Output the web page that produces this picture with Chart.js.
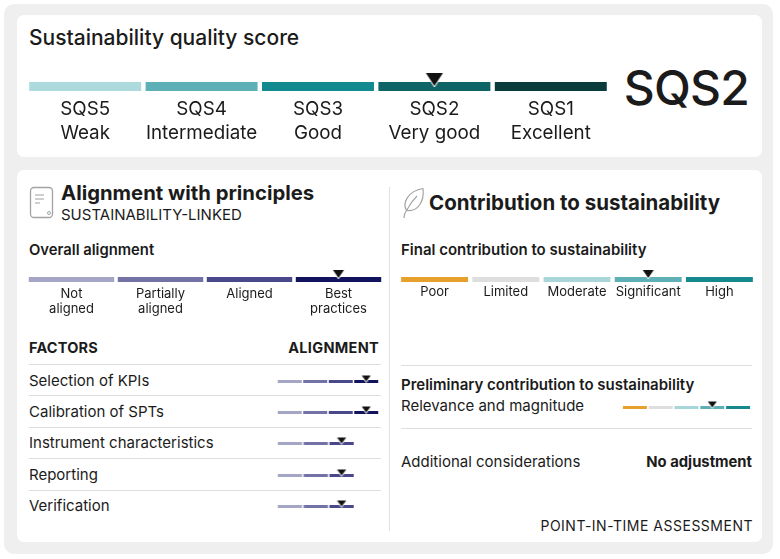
<!DOCTYPE html>
<html><head><meta charset="utf-8">
<script src="https://cdn.jsdelivr.net/npm/chart.js@4.4.1/dist/chart.umd.min.js"></script>
<style>
html,body{margin:0;padding:0;background:#fff;width:780px;height:559px;overflow:hidden;font-family:Inter,Roboto,"Noto Sans",sans-serif;color:#1b1b1b;}
.t{position:absolute;white-space:nowrap;}
#outer{position:absolute;left:4px;top:4px;width:769px;height:550px;background:#efefef;border-radius:10px;}
.card{position:absolute;background:#fff;border-radius:7px;}
.hr{position:absolute;height:1px;background:#dedede;}
.box{position:absolute;}
</style></head><body>
<div id="outer"></div>
<div class="card" style="left:17px;top:15px;width:745px;height:142px;"></div>
<div class="card" style="left:17px;top:170px;width:745px;height:372px;"></div>
<div class="t" style="left:29px;top:26px;font-size:21px;line-height:24px;font-weight:500;">Sustainability quality score</div>
<div class="t" id="bigScore" style="left:580px;width:169px;text-align:right;top:63px;font-size:48px;line-height:50px;font-weight:500;letter-spacing:-0.8px;"></div>

<svg class="t" style="left:29px;top:186px" width="26" height="34" viewBox="0 0 26 34">
  <rect x="1.5" y="1.5" width="22" height="30" rx="3.5" fill="none" stroke="#a3a3a3" stroke-width="1.3"/>
  <line x1="6" y1="9" x2="15" y2="9" stroke="#b0b0b0" stroke-width="1.2"/>
  <line x1="6" y1="13" x2="15" y2="13" stroke="#b0b0b0" stroke-width="1.2"/>
  <line x1="6" y1="17" x2="11" y2="17" stroke="#b0b0b0" stroke-width="1.2"/>
  <circle cx="20" cy="27" r="1.5" fill="none" stroke="#a3a3a3" stroke-width="1"/>
</svg>
<div class="t" style="left:61px;top:181px;font-size:20.3px;line-height:24px;font-weight:700;">Alignment with principles</div>
<div class="t" style="left:61px;top:206px;font-size:15px;line-height:17px;">SUSTAINABILITY-LINKED</div>
<div class="t" style="left:29px;top:241px;font-size:14.8px;line-height:18px;font-weight:600;">Overall alignment</div>
<div class="t" style="left:29px;top:339px;font-size:14.5px;line-height:17px;font-weight:700;letter-spacing:0.2px;">FACTORS</div>
<div class="t" style="left:230px;width:149px;text-align:right;top:339px;font-size:14.5px;line-height:17px;font-weight:700;letter-spacing:0.3px;">ALIGNMENT</div>

<div style="position:absolute;left:389px;top:187px;width:1px;height:344px;background:#e2e2e2;"></div>

<svg class="t" style="left:400px;top:186px" width="26" height="34" viewBox="0 0 26 34">
  <path d="M4 32 C4 29 4.5 27 6.5 24.5 C2 17 8 5 23 2.5 C24.5 15 18 26 7 24.5" fill="none" stroke="#a3a3a3" stroke-width="1.2" stroke-linejoin="round"/>
  <path d="M6.5 24.5 C10 18 13 14 17 10" fill="none" stroke="#a3a3a3" stroke-width="1.1"/>
</svg>
<div class="t" style="left:429px;top:191px;font-size:20.5px;line-height:24px;font-weight:700;">Contribution to sustainability</div>
<div class="t" style="left:401px;top:241px;font-size:15px;line-height:18px;font-weight:600;">Final contribution to sustainability</div>
<div class="hr" style="left:401px;top:365px;width:351px;"></div>
<div class="t" style="left:401px;top:376px;font-size:15px;line-height:18px;font-weight:600;">Preliminary contribution to sustainability</div>
<div class="t" style="left:401px;top:397px;font-size:15px;line-height:18px;">Relevance and magnitude</div>
<div class="hr" style="left:401px;top:428px;width:351px;"></div>
<div class="t" style="left:401px;top:453px;font-size:15px;line-height:18px;">Additional considerations</div>
<div class="t" id="addCons" style="left:600px;width:152px;text-align:right;top:453px;font-size:14.8px;line-height:18px;font-weight:700;"></div>
<div class="t" style="left:480px;width:273px;text-align:right;top:517px;font-size:14px;line-height:17px;letter-spacing:0.5px;">POINT-IN-TIME ASSESSMENT</div>

<div class="box" id="sqsBox" style="left:27px;top:66px;width:582px;height:85px;"></div>
<div class="box" id="alignBox" style="left:27px;top:265px;width:356px;height:53px;"></div>
<div class="box" id="contribBox" style="left:399px;top:265px;width:356px;height:39px;"></div>
<div class="box" id="prelimBox" style="left:622px;top:396px;width:129px;height:13px;"></div>
<div id="factorArea"></div>

<script>
// ---------- data ----------
const sqsLevels = ['SQS5', 'SQS4', 'SQS3', 'SQS2', 'SQS1'];
const sqsDescriptors = ['Weak', 'Intermediate', 'Good', 'Very good', 'Excellent'];
const sqsScore = 'SQS2';

const alignmentLevels = ['Not aligned', 'Partially aligned', 'Aligned', 'Best practices'];
const alignmentTickLabels = [['Not', 'aligned'], ['Partially', 'aligned'], ['Aligned'], ['Best', 'practices']];
const overallAlignment = 'Best practices';

const factorNames = ['Selection of KPIs', 'Calibration of SPTs', 'Instrument characteristics', 'Reporting', 'Verification'];
const factorLevelCounts = [4, 4, 3, 3, 3];
const factorAlignment = ['Best practices', 'Best practices', 'Aligned', 'Aligned', 'Aligned'];

const contributionLevels = ['Poor', 'Limited', 'Moderate', 'Significant', 'High'];
const finalContribution = 'Significant';
const preliminaryContribution = 'Significant';
const additionalConsiderations = 'No adjustment';

// ---------- styles ----------
const sqsColors = ['#acdadd', '#5fb0b6', '#138a8f', '#0f6466', '#0b3c3d'];
const alignColors = ['#a5a5c6', '#7272a6', '#48488a', '#11135c'];
const contribColors = ['#e8a02c', '#dedede', '#a9d6d9', '#5fb0b6', '#16898f'];
const TEXT = '#1b1b1b';

Chart.defaults.font.family = 'Inter, Roboto, "Noto Sans", sans-serif';

document.getElementById('bigScore').textContent = sqsScore;
document.getElementById('addCons').textContent = additionalConsiderations;

function makeTri(w, h, off) {
  const c = document.createElement('canvas');
  c.width = Math.ceil(w) + 4 + (Math.ceil(w) % 2);
  c.height = Math.ceil(2 * (h + off)) + 4;
  const g = c.getContext('2d');
  const cx = c.width / 2, cy = c.height / 2;
  g.beginPath();
  g.moveTo(cx - w / 2, cy + off - h);
  g.lineTo(cx + w / 2, cy + off - h);
  g.lineTo(cx, cy + off);
  g.closePath();
  g.lineJoin = 'round';
  g.strokeStyle = '#ffffff'; g.lineWidth = 2; g.stroke();
  g.fillStyle = '#111111'; g.fill();
  return c;
}

function scaleChart(boxId, levels, tickLabels, colors, selected, cfg) {
  const box = typeof boxId === 'string' ? document.getElementById(boxId) : boxId;
  const canvas = document.createElement('canvas');
  box.appendChild(canvas);
  new Chart(canvas, {
    type: 'bar',
    data: {
      labels: levels,
      datasets: [
        { type: 'line', data: levels.map(l => l === selected ? 1 : null), showLine: false,
          pointStyle: cfg.tri, pointRadius: 5, pointHoverRadius: 5, clip: false, order: 0 },
        { type: 'bar', data: levels.map(() => 1), backgroundColor: colors.slice(0, levels.length),
          borderWidth: 0, barPercentage: cfg.barPct, categoryPercentage: 1, order: 1 }
      ]
    },
    options: {
      responsive: true, maintainAspectRatio: false, animation: false, events: [],
      layout: { autoPadding: false, padding: { top: cfg.padTop, left: 0, right: 0, bottom: 0 } },
      plugins: { legend: { display: false }, tooltip: { enabled: false } },
      scales: {
        x: {
          display: !!tickLabels, offset: true,
          grid: { display: false, drawTicks: false }, border: { display: false },
          ticks: { autoSkip: false, maxRotation: 0, minRotation: 0, padding: cfg.tickPad || 0,
                   color: TEXT, font: { size: cfg.fontSize || 12, lineHeight: (cfg.lineH || 14) + 'px' },
                   callback: (v, i) => tickLabels ? tickLabels[i] : '' },
          afterFit: s => { s.height = cfg.axisH || 0; }
        },
        y: { display: false, min: 0, max: 1 }
      }
    }
  });
}

// Sustainability quality score
scaleChart('sqsBox', sqsLevels, sqsLevels.map((l, i) => [l, sqsDescriptors[i]]), sqsColors, sqsScore,
  { tri: makeTri(17, 13, 4), padTop: 16, barPct: 0.962, tickPad: 6, fontSize: 18.8, lineH: 24, axisH: 60 });

// Overall alignment
scaleChart('alignBox', alignmentLevels, alignmentTickLabels, alignColors, overallAlignment,
  { tri: makeTri(11, 8, 1), padTop: 12, barPct: 0.96, tickPad: 4, fontSize: 13, lineH: 15.5, axisH: 36 });

// Final contribution
scaleChart('contribBox', contributionLevels, contributionLevels.map(l => [l]), contribColors, finalContribution,
  { tri: makeTri(11, 8, 1), padTop: 12, barPct: 0.94, tickPad: 3, fontSize: 13, lineH: 15, axisH: 22 });

// Preliminary contribution
scaleChart('prelimBox', contributionLevels, null, contribColors, preliminaryContribution,
  { tri: makeTri(9, 6, 1.5), padTop: 10, barPct: 0.93 });

// Factors
const area = document.getElementById('factorArea');
const miniTri = makeTri(9, 6, 1.5);
factorNames.forEach((name, i) => {
  const cy = 380.5 + i * 31.4;
  const line = document.createElement('div');
  line.className = 'hr';
  line.style.cssText = `left:29px;top:${Math.round(cy - 16.5)}px;width:352px;`;
  area.appendChild(line);
  const lab = document.createElement('div');
  lab.className = 't';
  lab.style.cssText = `left:29px;top:${cy - 9}px;font-size:15px;line-height:18px;`;
  lab.textContent = name;
  area.appendChild(lab);
  const levels = alignmentLevels.slice(0, factorLevelCounts[i]);
  const box = document.createElement('div');
  box.className = 'box';
  box.style.cssText = `left:277px;top:${cy - 1 - 10}px;width:${25.5 * levels.length}px;height:13px;`;
  area.appendChild(box);
  scaleChart(box, levels, null, alignColors, factorAlignment[i], { tri: miniTri, padTop: 10, barPct: 0.94 });
});
</script>
</body></html>
